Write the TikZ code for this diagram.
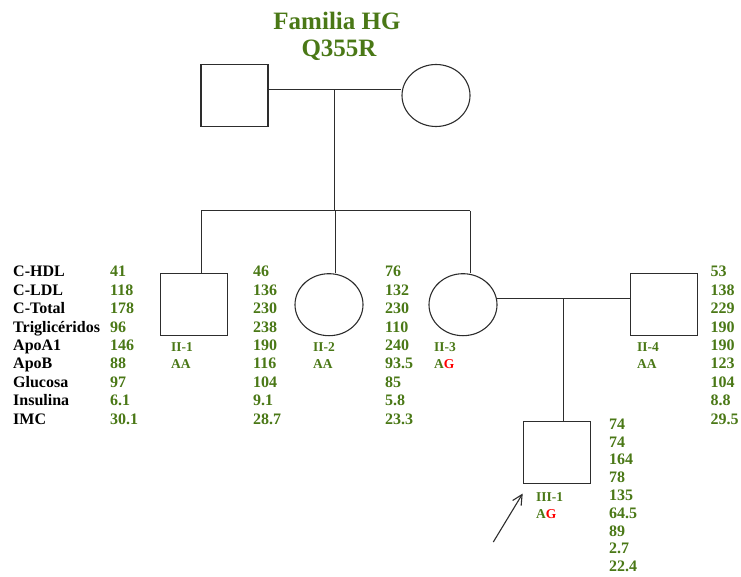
\documentclass[tikz,border=0pt]{standalone}
\usepackage{fontspec}
\setmainfont{Liberation Serif}
\usetikzlibrary{shapes.geometric,arrows.meta}
\definecolor{leaf}{RGB}{74,120,22}
\definecolor{ink}{RGB}{45,45,45}
\tikzset{
  male/.style={draw=ink,line width=1.1pt,rectangle,minimum width=67pt,minimum height=62pt,inner sep=0pt},
  female/.style={draw=ink,line width=1.1pt,ellipse,minimum width=68pt,minimum height=62pt,inner sep=0pt},
  link/.style={draw=ink,line width=1pt},
  datum/.style={anchor=base west,inner sep=0pt,text=leaf,font=\bfseries\fontsize{16}{16}\selectfont},
  trait/.style={anchor=base west,inner sep=0pt,text=black,font=\bfseries\fontsize{16}{16}\selectfont},
  tag/.style={anchor=base west,inner sep=0pt,text=leaf,font=\bfseries\fontsize{13.5}{13.5}\selectfont},
  heading/.style={anchor=base,inner sep=0pt,text=leaf,font=\bfseries\fontsize{25}{25}\selectfont},
}
\newcommand{\allele}[1]{\textcolor{red}{#1}}
\begin{document}
\begin{tikzpicture}[x=1pt,y=-1pt]
\useasboundingbox (0,0) rectangle (741,577);

% title
\node[heading] (t1) at (337,30) {Familia HG};
\node[heading] (t2) at (339,57) {Q355R};

% generation I
\node[male] (f) at (234.5,95.5) {};
\node[female] (m) at (436,95.5) {};
\coordinate (mI) at (334.5,89.5);
\draw[link] (f.east |- mI) -- (mI) -- (mI -| m.west);

% sibship line
\coordinate (sL) at (201,211);
\coordinate (s2) at (335,211);
\coordinate (sR) at (470,211);
\draw[link] (mI) -- (mI |- sL);
\draw[link] (sL) -- (sR);

% generation II
\node[male] (c1) at (194.2,304.2) {};
\node[female] (c2) at (329,304.7) {};
\node[female] (c3) at (463,304.7) {};
\node[male] (c4) at (663.7,304.2) {};
\draw[link] (sL) -- (sL |- c1.north);
\draw[link] (s2) -- (s2 |- c2.north);
\draw[link] (sR) -- (sR |- c3.north);

% couple II-3 / II-4 and their son
\coordinate (mII) at (563.5,298.3);
\draw[link] ([xshift=-0.7pt]mII -| c3.east) -- (mII) -- (mII -| c4.west);
\node[male] (c5) at (556.7,452.7) {};
\draw[link] (mII) -- (mII |- c5.north);

% proband arrow
\coordinate (pa) at (493.3,542);
\coordinate (pb) at (522.7,493.5);
\draw[ink,line width=1.1pt,-{Straight Barb[length=10pt,width=10pt]}] (pa) -- (pb);

% individual labels
\node[tag] (l1a) at (171,351.5) {II-1};
\node[tag] (l1b) at (171,368.5) {AA};
\node[tag] (l2a) at (313,351.5) {II-2};
\node[tag] (l2b) at (313,368.5) {AA};
\node[tag] (l3a) at (434,351.5) {II-3};
\node[tag] (l3b) at (434,368.5) {A\allele{G}};
\node[tag] (l4a) at (637,351.5) {II-4};
\node[tag] (l4b) at (637,368.5) {AA};
\node[tag] (l5a) at (536,501.5) {III-1};
\node[tag] (l5b) at (536,518.5) {A\allele{G}};

% trait names and values
\foreach \name [count=\k from 0] in {C-HDL,C-LDL,C-Total,Triglicéridos,ApoA1,ApoB,Glucosa,Insulina,IMC}
  \node[trait] (tr\k) at (13,276.8+18.4*\k) {\name};
\foreach \v [count=\k from 0] in {41,118,178,96,146,88,97,6.1,30.1}
  \node[datum] (va\k) at (110,276.8+18.4*\k) {\v};
\foreach \v [count=\k from 0] in {46,136,230,238,190,116,104,9.1,28.7}
  \node[datum] (vb\k) at (253,276.8+18.4*\k) {\v};
\foreach \v [count=\k from 0] in {76,132,230,110,240,93.5,85,5.8,23.3}
  \node[datum] (vc\k) at (385,276.8+18.4*\k) {\v};
\foreach \v [count=\k from 0] in {53,138,229,190,190,123,104,8.8,29.5}
  \node[datum] (vd\k) at (710.5,276.8+18.4*\k) {\v};
\foreach \v [count=\k from 0] in {74,74,164,78,135,64.5,89,2.7,22.4}
  \node[datum] (ve\k) at (609,429.3+17.8*\k) {\v};
\end{tikzpicture}
\end{document}
